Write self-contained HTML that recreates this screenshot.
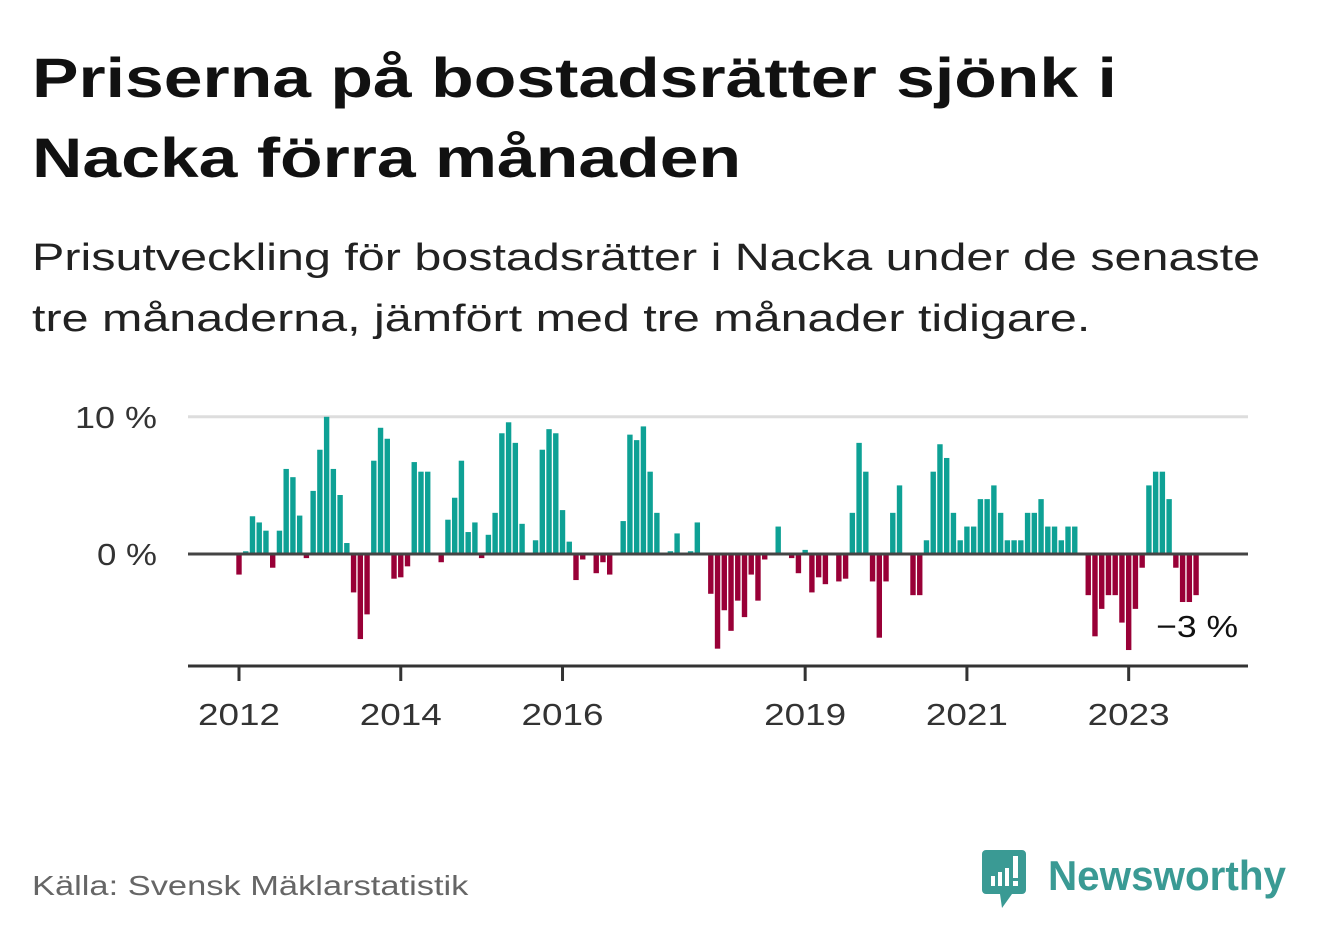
<!DOCTYPE html>
<html><head><meta charset="utf-8"><style>
body{margin:0;background:#fff;width:1322px;height:939px;overflow:hidden;font-family:"Liberation Sans","DejaVu Sans",sans-serif;}
.sx{display:inline-block;transform-origin:left center;white-space:nowrap;}
#title{position:absolute;left:32px;top:38px;font-size:56px;font-weight:bold;line-height:80px;color:#111;margin:0;}
#title .sx{transform:scaleX(1.245);}
#sub{position:absolute;left:32px;top:228px;font-size:38px;line-height:61px;color:#222;margin:0;}
#sub .sx{transform:scaleX(1.275);}
#src{position:absolute;left:32px;top:870px;font-size:28px;color:#666;}
#src .sx{transform:scaleX(1.23);}
#logo{position:absolute;left:982px;top:850px;}
</style></head><body>
<h1 id="title"><span class="sx">Priserna på bostadsrätter sjönk i</span><br><span class="sx">Nacka förra månaden</span></h1>
<p id="sub"><span class="sx">Prisutveckling för bostadsrätter i Nacka under de senaste</span><br><span class="sx">tre månaderna, jämfört med tre månader tidigare.</span></p>
<svg id="chart" width="1322" height="939" style="position:absolute;left:0;top:0" xmlns="http://www.w3.org/2000/svg"></svg>
<div id="src"><span class="sx">Källa: Svensk Mäklarstatistik</span></div>
<div id="logo">
<svg width="320" height="60" xmlns="http://www.w3.org/2000/svg">
<path d="M4 0h36a4 4 0 0 1 4 4v36a4 4 0 0 1-4 4H30l-10 14-2-14H4a4 4 0 0 1-4-4V4a4 4 0 0 1 4-4z" fill="#3a9a94"/>
<rect x="9" y="26" width="4" height="10" fill="#fff"/><rect x="16" y="22" width="4" height="14" fill="#fff"/><rect x="23" y="18" width="4" height="18" fill="#fff"/><rect x="31" y="6" width="5" height="22" fill="#fff"/><rect x="31" y="31" width="5" height="5" fill="#fff"/>
<text x="66" y="40" font-family="Liberation Sans, sans-serif" font-size="42" font-weight="bold" fill="#3a9a94" textLength="238" lengthAdjust="spacingAndGlyphs">Newsworthy</text>
</svg></div>
<script>
const startYear = 2012;
const values = [-1.5,0.2,2.75,2.3,1.7,-1.0,1.7,6.2,5.6,2.8,-0.3,4.6,
7.6,10.0,6.2,4.3,0.8,-2.8,-6.2,-4.4,6.8,9.2,8.4,-1.8,
-1.7,-0.9,6.7,6.0,6.0,0,-0.6,2.5,4.1,6.8,1.6,2.3,
-0.3,1.4,3.0,8.8,9.6,8.1,2.2,0,1.0,7.6,9.1,8.8,
3.2,0.9,-1.9,-0.4,0,-1.4,-0.6,-1.5,0,2.4,8.7,8.3,
9.3,6.0,3.0,0,0.2,1.5,0,0.2,2.3,0,-2.9,-6.9,
-4.1,-5.6,-3.4,-4.6,-1.5,-3.4,-0.4,0,2.0,0,-0.3,-1.4,
0.3,-2.8,-1.7,-2.2,0,-2.0,-1.8,3.0,8.1,6.0,-2.0,-6.1,
-2.0,3.0,5.0,0,-3.0,-3.0,1.0,6.0,8.0,7.0,3.0,1.0,
2.0,2.0,4.0,4.0,5.0,3.0,1.0,1.0,1.0,3.0,3.0,4.0,
2.0,2.0,1.0,2.0,2.0,0,-3.0,-6.0,-4.0,-3.0,-3.0,-5.0,
-7.0,-4.0,-1.0,5.0,6.0,6.0,4.0,-1.0,-3.5,-3.5,-3.0];
const yTicks = [0, 10];
const yTickLabels = ["0 %", "10 %"];
const xTickYears = [2012, 2014, 2016, 2019, 2021, 2023];
const lastLabel = "−3 %";

const NS = "http://www.w3.org/2000/svg";
const svg = document.getElementById('chart');
const x = i => 239 + 6.74 * i;
const y = v => 554 - 13.72 * v;
function el(tag, attrs){const e=document.createElementNS(NS,tag);for(const k in attrs)e.setAttribute(k,attrs[k]);svg.appendChild(e);return e;}

yTicks.forEach((t,i)=>{
  if(t!==0){const g=el('line',{x1:188,x2:1248,y1:y(t),y2:y(t),stroke:'#ddd','stroke-width':3});
  
  }
  const tx=el('text',{x:157,y:y(t)+11,'text-anchor':'end','font-size':31,fill:'#333'});
  tx.textContent=yTickLabels[i];
  tx.setAttribute('textLength', t===10 ? 82 : 60);
  tx.setAttribute('lengthAdjust','spacingAndGlyphs');
  
  
});
values.forEach((v,i)=>{
  if(v===0) return;
  const r=el('rect',{x:x(i)-2.7,width:5.4,y:Math.min(y(v),y(0)),height:Math.abs(y(v)-y(0)),fill:v>0?'#0ea195':'#990037'});
  
  
});
const zl=el('line',{x1:188,x2:1248,y1:y(0),y2:y(0),stroke:'#444','stroke-width':3});


const ax=el('line',{x1:188,x2:1248,y1:666,y2:666,stroke:'#333','stroke-width':3});


xTickYears.forEach(yr=>{
  const xi=x((yr-startYear)*12);
  const tk=el('line',{x1:xi,x2:xi,y1:666,y2:681,stroke:'#333','stroke-width':3});
  
  
  const tl=el('text',{x:xi,y:725,'text-anchor':'middle','font-size':31,fill:'#333',textLength:82,lengthAdjust:'spacingAndGlyphs'});
  tl.textContent=yr;
  
  
});
const li=values.length-1;
const ll=el('text',{x:x(li)-40,y:y(values[li])+42,'font-size':31,fill:'#111',textLength:82,lengthAdjust:'spacingAndGlyphs'});
ll.textContent=lastLabel;


</script>
</body></html>
